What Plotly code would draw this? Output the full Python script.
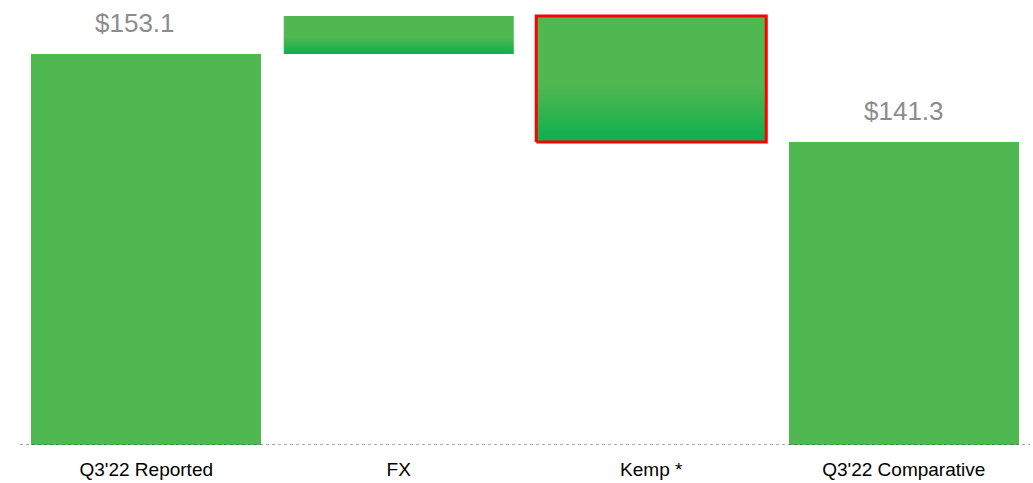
import plotly.graph_objects as go

# Bridge from reported to comparative revenue
categories = ["Q3'22 Reported", "FX", "Kemp *", "Q3'22 Comparative"]
reported = 153.1
changes = [5.1, -16.9]          # FX, Kemp *
comparative = 141.3
total_labels = ["$153.1", "$141.3"]

axis_floor = 100.67
axis_ceiling = 159.0
bar_width = 0.911

SOLID = "#50B851"
DEEP = "#0DAF4F"
gradient = [[0.0, DEEP], [0.45, SOLID], [1.0, SOLID]]

fig = go.Figure()

# Solid total bars
fig.add_trace(go.Bar(
    x=[0, 3], y=[reported - axis_floor, comparative - axis_floor], base=axis_floor,
    width=bar_width, marker=dict(color=SOLID, line=dict(width=0)),
    hoverinfo="skip", showlegend=False,
))

# Floating change bars with a vertical gradient
level = reported
edge_styles = [dict(width=0, color=SOLID), dict(width=3, color="#FF0000")]
for i, delta in enumerate(changes):
    idx = i + 1
    lo, hi = sorted([level, level + delta])
    x0, x1 = idx - bar_width / 2, idx + bar_width / 2
    fig.add_trace(go.Scatter(
        x=[x0, x1, x1, x0, x0], y=[lo, lo, hi, hi, lo],
        mode="lines", fill="toself",
        fillgradient=dict(type="vertical", colorscale=gradient, start=lo, stop=hi),
        line=edge_styles[i],
        hoverinfo="skip", showlegend=False,
    ))
    level += delta

# Value labels above the total bars
for xi, val, txt, dx in zip([0, 3], [reported, comparative], total_labels, [-11, 0]):
    fig.add_annotation(
        x=xi, y=val, text=txt, showarrow=False, yanchor="middle", yshift=31, xshift=dx,
        font=dict(family="Liberation Sans, Arial", size=26, color="#8C8C8C"),
    )

# Dotted baseline
fig.add_shape(
    type="line", xref="paper", yref="y", x0=0, x1=1, y0=axis_floor, y1=axis_floor,
    line=dict(color="#555555", width=1, dash="dot"),
)

fig.update_layout(
    width=1033, height=483,
    margin=dict(l=20, r=3, t=10, b=38),
    paper_bgcolor="white", plot_bgcolor="white",
    bargap=0,
    xaxis=dict(
        range=[-0.5, 3.5], tickvals=[0, 1, 2, 3], ticktext=categories,
        showgrid=False, zeroline=False, showline=False, ticks="",
        tickfont=dict(family="Liberation Sans, Arial", size=19, color="#000000"),
        ticklabelstandoff=11,
    ),
    yaxis=dict(
        range=[axis_floor, axis_ceiling], visible=False, showgrid=False, zeroline=False,
    ),
)

fig.write_html("out.html")
